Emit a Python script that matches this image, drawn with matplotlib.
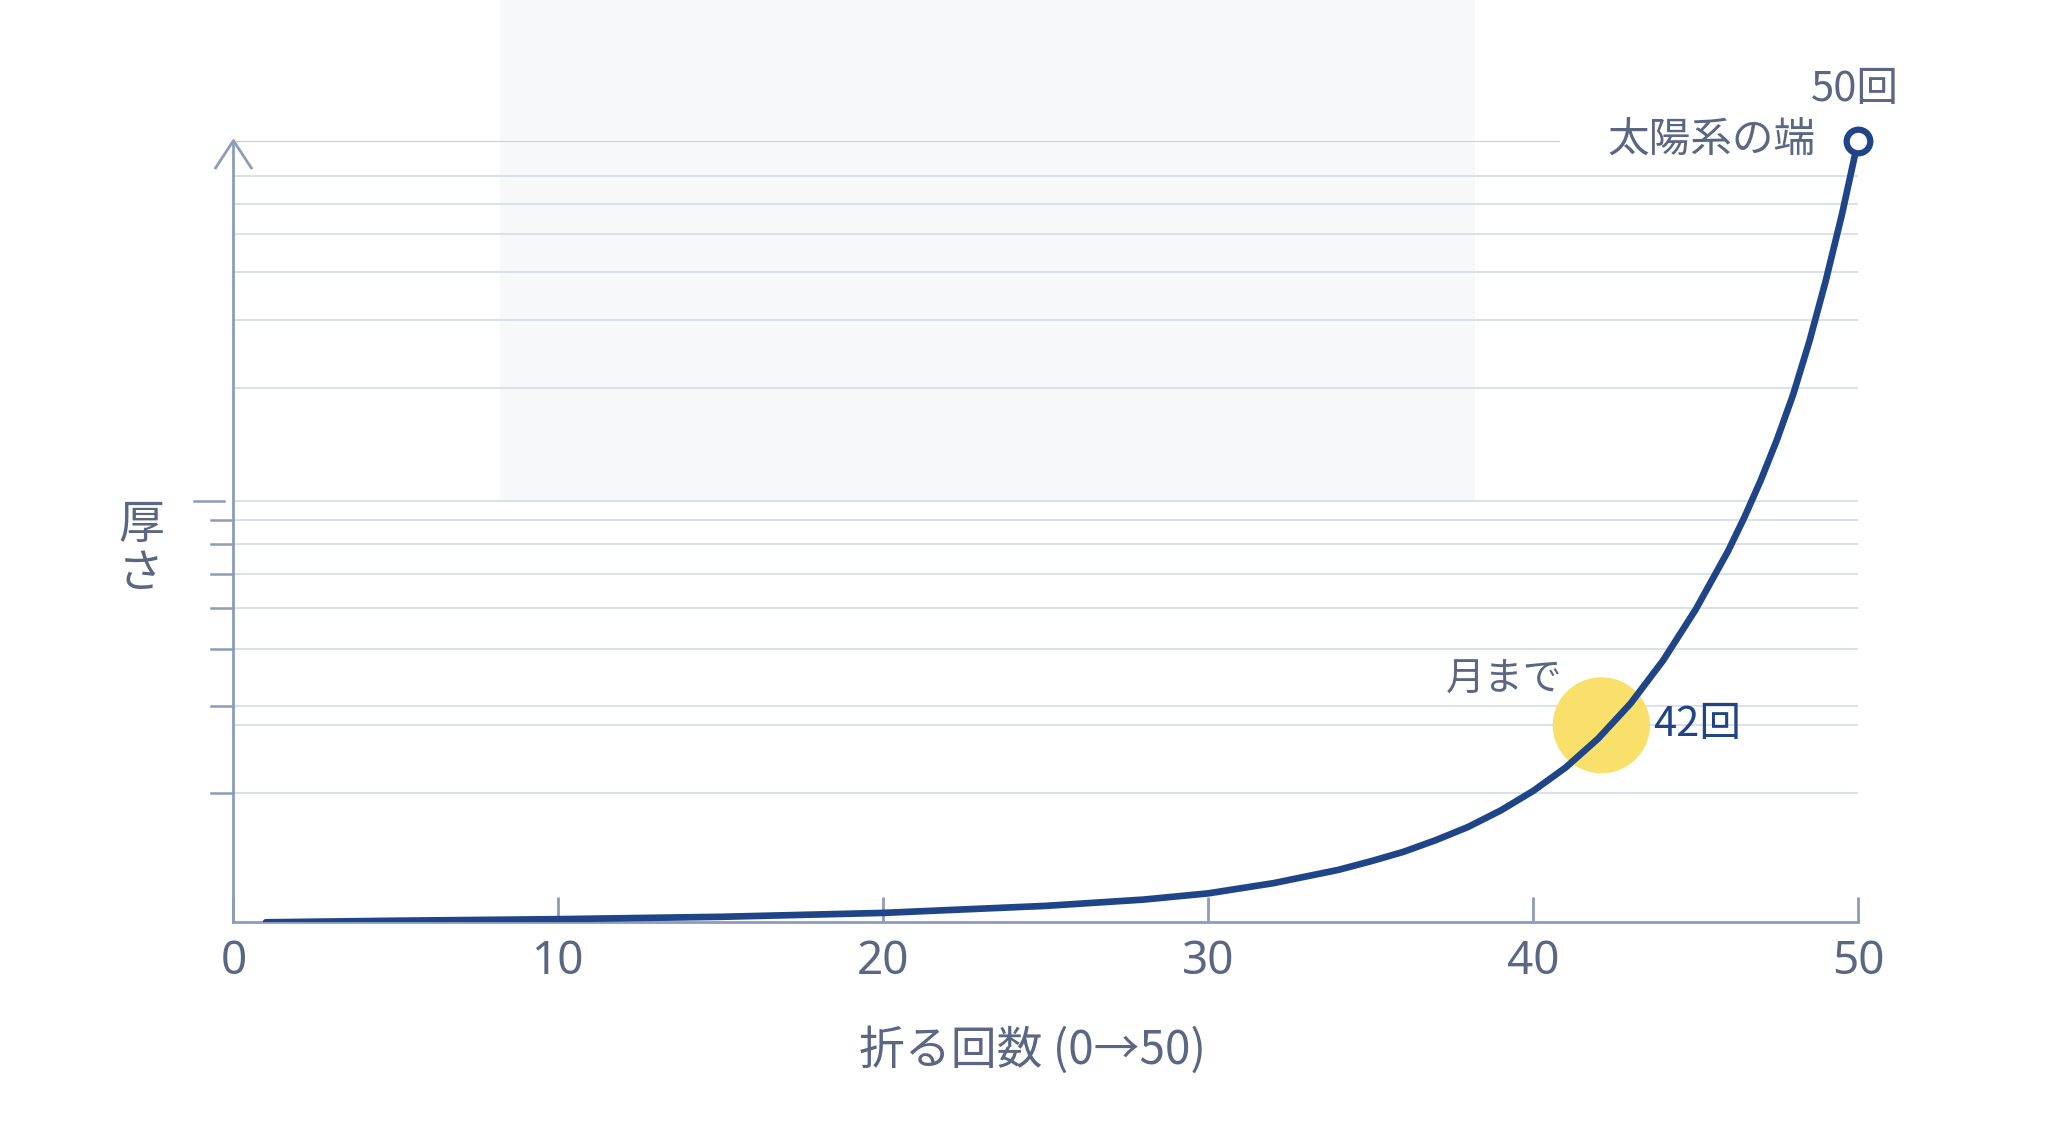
import matplotlib
matplotlib.use("Agg")
import matplotlib.pyplot as plt
from matplotlib.patches import Rectangle, Ellipse

plt.rcParams['font.family'] = ['Noto Sans CJK JP', 'DejaVu Sans']

folds = [1, 5, 10, 15, 20, 25, 28, 30, 32, 34, 35, 36, 37, 38, 39, 40, 41, 42, 43, 44, 45, 46, 46.5, 47, 47.5, 48, 48.5, 49, 49.5, 50]
thickness = [0.0, 0.002, 0.004, 0.007, 0.012, 0.021, 0.029, 0.037, 0.05, 0.067, 0.078, 0.09, 0.105, 0.122, 0.143, 0.168, 0.198, 0.235, 0.28, 0.335, 0.4, 0.475, 0.518, 0.565, 0.617, 0.675, 0.743, 0.82, 0.905, 1.0]
xticks = [0, 10, 20, 30, 40, 50]
grid_levels = [0.955, 0.919, 0.881, 0.832, 0.77, 0.684, 0.539, 0.514, 0.484, 0.445, 0.402, 0.35, 0.277, 0.252, 0.166]
left_ticks = [0.514, 0.484, 0.445, 0.402, 0.35, 0.277, 0.166]

W, H = 1553, 870
fig = plt.figure(figsize=(20.48, 11.43), dpi=100)
ax = fig.add_axes([177 / W, 1 - 702 / H, (1409 - 177) / W, 595 / H])
ax.set_xlim(0, 50)
ax.set_ylim(0, 1)

axis_c = '#8c9cba'
text_c = '#5b6684'
line_c = '#1f4588'

ax.add_patch(Rectangle((8.2, 0.54), 30.0, 0.65, color='#f7f8fa', zorder=0.5, clip_on=False, lw=0))

for g in grid_levels:
    ax.axhline(g, color='#d3dbe8', lw=1.2, zorder=1)
ax.plot([0, 40.8], [1, 1], color='#c3ccdc', lw=1.4, zorder=1)
ax.plot([-1.2, -0.3], [0.539, 0.539], color=axis_c, lw=1.8, clip_on=False)
for t in left_ticks:
    ax.plot([-0.7, 0], [t, t], color=axis_c, lw=1.8, clip_on=False)

for s in ['top', 'right']:
    ax.spines[s].set_visible(False)
for s in ['left', 'bottom']:
    ax.spines[s].set_color(axis_c)
    ax.spines[s].set_linewidth(2)
ax.set_yticks([])
ax.set_xticks(xticks)
ax.set_xticklabels([str(x) for x in xticks], fontsize=33, color=text_c, family=['Noto Sans', 'DejaVu Sans'])
ax.tick_params(axis='x', direction='in', length=18, width=2, color=axis_c, pad=12)
ax.plot([-0.55, 0, 0.55], [0.965, 1.0, 0.965], color=axis_c, lw=2, clip_on=False)

ax.plot(folds, thickness, color=line_c, lw=4.8, solid_capstyle='round', zorder=4)

ax.add_patch(Ellipse((42.1, 0.252), 2.95, 0.121, color='#f9e06a', zorder=3))
ax.plot([50], [1.0], 'o', ms=17, mfc='white', mec=line_c, mew=4.5, zorder=5, clip_on=False)

ax.text(40.9, 0.31, '月まで', fontsize=28, color=text_c, ha='right', va='center')
ax.text(43.7, 0.253, '42回', fontsize=30, color=line_c, ha='left', va='center')
ax.text(48.7, 1.0, '太陽系の端', fontsize=30, color=text_c, ha='right', va='center')
ax.text(49.9, 1.065, '50回', fontsize=30, color=text_c, ha='center', va='center', clip_on=False)

fig.text(107 / W, 1 - 418 / H, '厚\nさ', fontsize=33, color=text_c, ha='center', va='center', linespacing=1.0)
fig.text(783 / W, 1 - 800 / H, '折る回数 (0→50)', fontsize=33, color=text_c, ha='center', va='center')

fig.savefig('out.png', dpi=100, facecolor='white')
